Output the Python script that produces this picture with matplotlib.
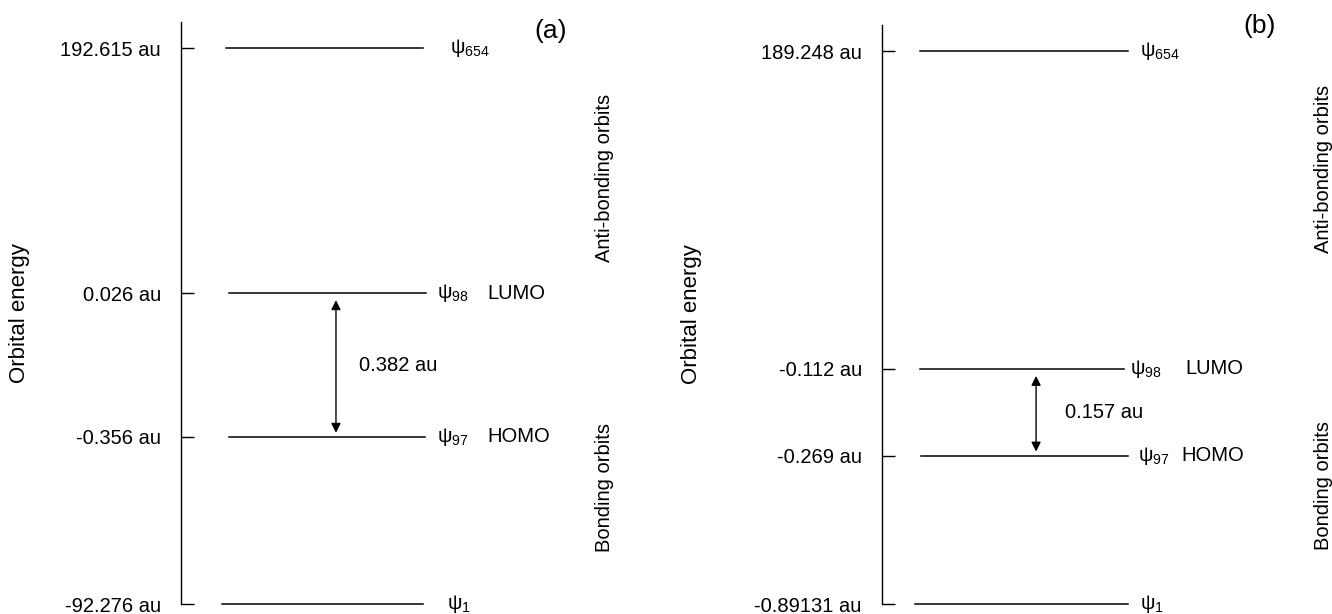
import matplotlib
matplotlib.use('Agg')
import matplotlib.pyplot as plt

plt.rcParams['font.family'] = ['Liberation Sans', 'DejaVu Sans']
plt.rcParams['mathtext.fontset'] = 'custom'
plt.rcParams['mathtext.rm'] = 'Liberation Sans'
plt.rcParams['mathtext.it'] = 'Liberation Sans'

# energy levels (schematic diagram, not to scale)
orbitals = ['654', '98', '97', '1']
tags = ['', 'LUMO', 'HOMO', '']

energy_a = ['192.615 au', '0.026 au', '-0.356 au', '-92.276 au']
level_pos_a = [0.955, 0.534, 0.287, 0.0]
gap_a = '0.382 au'

energy_b = ['189.248 au', '-0.112 au', '-0.269 au', '-0.89131 au']
level_pos_b = [0.955, 0.406, 0.256, 0.0]
gap_b = '0.157 au'

W, H = 1332, 614
fig = plt.figure(figsize=(W / 100, H / 100), dpi=100)

fs = 14.5


def draw_panel(rect, labels, pos, gap, tag, lx, psi_x, tag_x, arrow_x, gap_x,
               panel_xy, ylab_x, side_x, side_y):
    ax = fig.add_axes(rect)
    ax.set_xlim(0, 1)
    ax.set_ylim(0, 1)
    for s in ['top', 'right', 'bottom']:
        ax.spines[s].set_visible(False)
    ax.spines['left'].set_linewidth(1.0)
    ax.set_xticks([])
    ax.set_yticks(pos)
    ax.set_yticklabels(labels, fontsize=fs)
    ax.tick_params(axis='y', direction='in', length=9.5, width=1.0, pad=14.5)
    for t in ax.yaxis.get_major_ticks():
        t.tick1line.set_clip_on(False)

    for i in range(len(pos)):
        x0, x1 = lx[i]
        ax.plot([x0, x1], [pos[i], pos[i]], color='black', lw=1.1, clip_on=False)
        ax.text(psi_x[i], pos[i], 'ψ$_{' + orbitals[i] + '}$', fontsize=fs,
                va='center', ha='left')
        if tags[i]:
            ax.text(tag_x[i], pos[i], tags[i], fontsize=fs, va='center', ha='left')

    ax.annotate('', xy=(arrow_x, pos[2]), xytext=(arrow_x, pos[1]),
                arrowprops=dict(arrowstyle='<|-|>', color='black', lw=1.0,
                                mutation_scale=14, shrinkA=5, shrinkB=3))
    ax.text(gap_x, (pos[1] + pos[2]) / 2, gap, fontsize=fs, va='center', ha='left')

    ax.text(panel_xy[0], panel_xy[1], tag, fontsize=19, ha='center', va='center')
    ax.text(ylab_x, 0.5, 'Orbital energy', fontsize=16, rotation=90,
            ha='center', va='center')
    ax.text(side_x, side_y[0], 'Anti-bonding orbits', fontsize=fs, rotation=90,
            ha='center', va='center')
    ax.text(side_x, side_y[1], 'Bonding orbits', fontsize=fs, rotation=90,
            ha='center', va='center')
    return ax


draw_panel([181 / W, 10 / H, 439 / W, 582 / H], energy_a, level_pos_a, gap_a, '(a)',
           lx=[(0.103, 0.551), (0.109, 0.558), (0.109, 0.556), (0.093, 0.551)],
           psi_x=[0.613, 0.583, 0.583, 0.606],
           tag_x=[0, 0.697, 0.697, 0],
           arrow_x=0.353, gap_x=0.405, panel_xy=(0.843, 0.985), ylab_x=-0.367,
           side_x=0.964, side_y=(0.732, 0.201))

draw_panel([882 / W, 10 / H, 439 / W, 579 / H], energy_b, level_pos_b, gap_b, '(b)',
           lx=[(0.087, 0.560), (0.087, 0.551), (0.089, 0.560), (0.075, 0.560)],
           psi_x=[0.588, 0.565, 0.583, 0.588],
           tag_x=[0, 0.690, 0.683, 0],
           arrow_x=0.351, gap_x=0.417, panel_xy=(0.859, 0.998), ylab_x=-0.433,
           side_x=1.005, side_y=(0.751, 0.205))

fig.savefig('out.png', dpi=100)
